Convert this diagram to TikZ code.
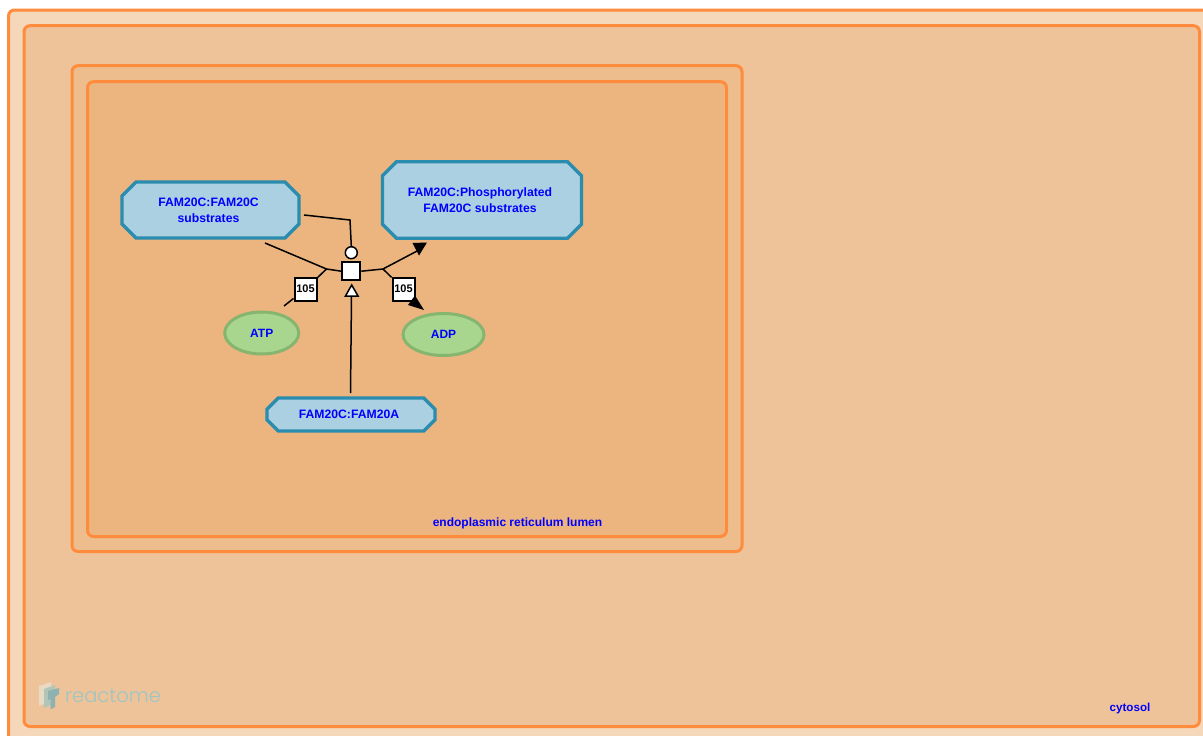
\documentclass[tikz,border=0pt]{standalone}
\usepackage{fontspec}
\setmainfont{Liberation Sans}
\newfontfamily\logofont{Poppins Light}
\usetikzlibrary{shapes.misc,shapes.geometric,arrows,positioning}
\definecolor{compline}{HTML}{FF8C3C}
\definecolor{compfillA}{HTML}{F5D8BA}
\definecolor{compfillB}{HTML}{EFC399}
\definecolor{compfillC}{HTML}{ECB47E}
\definecolor{complexfill}{HTML}{ABD0E2}
\definecolor{complexline}{HTML}{2A8CAE}
\definecolor{chemfill}{HTML}{A8D68F}
\definecolor{chemline}{HTML}{86B56F}
\definecolor{logocol}{HTML}{9CC6C4}
\newcommand{\cplxline}[1]{\raisebox{-1pt}{#1}\hspace*{4pt}}
\tikzset{
	comp/.style={draw=compline,line width=3pt,rounded corners=6pt},
	complexbox/.style={chamfered rectangle,chamfered rectangle xsep=7pt,chamfered rectangle ysep=7pt,
		draw=complexline,fill=complexfill,line width=3.4pt,inner sep=0pt,align=center,
		text=blue,font=\bfseries\fontsize{12.2}{16}\selectfont},
	chem/.style={ellipse,draw=chemline,fill=chemfill,line width=3pt,inner sep=0pt,
		text=blue,font=\bfseries\fontsize{12}{16}\selectfont},
	complabel/.style={text=blue,inner sep=0pt,font=\bfseries\fontsize{12}{16}\selectfont},
	stoich/.style={draw,fill=white,line width=2pt,minimum width=22pt,minimum height=23pt,inner sep=0pt,
		font=\bfseries\fontsize{11}{13}\selectfont},
	reaction/.style={draw,fill=white,line width=2pt,minimum width=18pt,minimum height=18pt,inner sep=0pt},
	catalyst/.style={circle,draw,fill=white,line width=1.5pt,minimum size=12pt,inner sep=0pt},
	edge/.style={line width=1.5pt},
	tiphead/.style={fill=black,draw=none},
	openhead/.style={draw,fill=white,line width=1.5pt,line join=miter}
}
\begin{document}
\begin{tikzpicture}[x=1pt,y=-1pt]
	\useasboundingbox (0,0) rectangle (1203,736);
	\clip (0,0) rectangle (1203,736);
	\fill[white] (0,0) rectangle (1203,736);
	% compartments
	\draw[comp,fill=compfillA] (8.5,10) rectangle (1240,760);
	\draw[comp,fill=compfillB] (24,25.7) rectangle (1199.5,726.5);
	\draw[comp,fill=compfillB!60!compfillC] (72,65.7) rectangle (742,551.5);
	\draw[comp,fill=compfillC] (87.5,81.7) rectangle (726.5,536.5);
	\node[complabel] (lumen) at (517.5,523) {endoplasmic reticulum lumen};
	\node[complabel,font=\bfseries\fontsize{11.6}{16}\selectfont] (cytosol) at (1130,708.5) {cytosol};
	% logo
	\fill[white!45!compfillB!85!logocol] (39,686)--(51,682)--(51,700)--(39,706)--cycle;
	\fill[logocol!75!compfillB] (44,689)--(55,685)--(55,703)--(44,708)--cycle;
	\fill[logocol!90!black] (48,691)--(59,688)--(59,694)--(55,697)--(55,707)--(50.5,709.5)--(50.5,699)--(48,700)--cycle;
	\node[text=logocol,inner sep=0pt,font=\logofont\fontsize{19.5}{24}\selectfont] (logo) at (113,696) {reactome};
	% entities
	\node[complexbox,minimum width=177pt,minimum height=56pt] (substrates) at (210.5,210) {\cplxline{FAM20C:FAM20C}\\\cplxline{substrates}};
	\node[complexbox,minimum width=199pt,minimum height=76.5pt] (product) at (482,200) {\cplxline{FAM20C:Phosphorylated}\\\cplxline{FAM20C substrates}};
	\node[complexbox,minimum width=168pt,minimum height=33pt] (enzyme) at (351,414.5) {\cplxline{FAM20C:FAM20A}};
	\node[chem,minimum width=74pt,minimum height=42pt] (atp) at (261.7,333) {ATP};
	\node[chem,minimum width=81pt,minimum height=42pt] (adp) at (443.5,334.5) {ADP};
	% reaction
	\node[reaction] (rxn) at (351.3,271.2) {};
	\node[catalyst] (cat) at (351.3,252.7) {};
	\node[stoich] (inLabel) at (305.5,289) {105};
	\node[stoich] (outLabel) at (403.5,289) {105};
	\coordinate (hubIn) at (326.5,269);
	\coordinate (hubOut) at (383,269);
	\coordinate (subEnd) at (265,243);
	\coordinate (catStart) at (304,215);
	\coordinate (catBend) at (350,220);
	\coordinate (atpEnd) at (284,306);
	\coordinate (prodEnd) at (419,250);
	\coordinate (adpEnd) at (416,301);
	\coordinate (enzEnd) at (350.5,393);
	\coordinate (openTip) at (351.5,296);
	% connectors
	\draw[edge] (subEnd)--(hubIn)--(rxn.west);
	\draw[edge] (atpEnd)--(inLabel);
	\draw[edge] (inLabel)--(hubIn);
	\draw[edge] (catStart)--(catBend)--(cat.north);
	\draw[edge] (rxn.east)--(hubOut)--(prodEnd);
	\draw[edge] (hubOut)--(outLabel);
	\draw[edge] (outLabel)--(adpEnd);
	\draw[edge] (enzEnd)--(openTip);
	% heads
	\fill[tiphead] (412.5,243)--(427,242.5)--(419,255.5)--cycle;
	\fill[tiphead] (415,295.5)--(408,305)--(424,310)--cycle;
	\draw[openhead] (345.5,296)--(358,296)--(351.7,285)--cycle;
\end{tikzpicture}
\end{document}
